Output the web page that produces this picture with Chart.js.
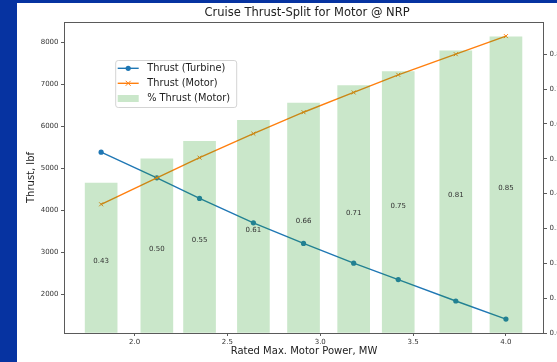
<!DOCTYPE html>
<html>
<head>
<meta charset="utf-8">
<script src="https://cdn.jsdelivr.net/npm/chart.js@4.4.1/dist/chart.umd.min.js"></script>
<style>
  html, body { margin: 0; padding: 0; width: 557px; height: 362px; overflow: hidden; background: #0633a1; }
  #wrap { position: absolute; left: 17px; top: 3px; width: 580px; height: 359px; background: #fff; }
  canvas { display: block; }
</style>
</head>
<body>
<div id="wrap"><canvas id="c" width="580" height="359"></canvas></div>
<script>
// Rated max. motor power (MW) for each design point
const motorPower = [1.82, 2.12, 2.35, 2.64, 2.91, 3.18, 3.42, 3.73, 4.00];
// Cruise thrust carried by the turbine and by the motor (lbf)
const thrustTurbine = [5380, 4770, 4280, 3700, 3210, 2740, 2350, 1840, 1410];
const thrustMotor = [4140, 4770, 5250, 5820, 6330, 6800, 7220, 7710, 8140];
// Share of thrust from the motor
const motorShare = [0.43, 0.50, 0.55, 0.61, 0.66, 0.71, 0.75, 0.81, 0.85];

// Axis ticks
const powerTicks = [2.0, 2.5, 3.0, 3.5, 4.0];
const thrustTicks = [2000, 3000, 4000, 5000, 6000, 7000, 8000];
const shareTicks = [0.0, 0.1, 0.2, 0.3, 0.4, 0.5, 0.6, 0.7, 0.8];

const FONT = "'DejaVu Sans', sans-serif";
const TXT = '#333';
const SPINE = '#5a5a5a';

const pts = (ys) => motorPower.map((x, i) => ({ x: x, y: ys[i] }));

// Frame around the plot area (all four spines)
const frame = {
  id: 'frame',
  afterDatasetsDraw(chart) {
    const { ctx, chartArea: a } = chart;
    ctx.save();
    ctx.strokeStyle = SPINE;
    ctx.lineWidth = 1;
    ctx.strokeRect(a.left + 0.5, a.top + 0.5, a.right - a.left - 1, a.bottom - a.top);
    ctx.restore();
  }
};

// Share values written at mid-height of each bar
const barLabels = {
  id: 'barLabels',
  afterDatasetsDraw(chart) {
    const { ctx, scales } = chart;
    ctx.save();
    ctx.font = '7px ' + FONT;
    ctx.fillStyle = '#333';
    ctx.textAlign = 'center';
    ctx.textBaseline = 'middle';
    motorShare.forEach((v, i) => {
      const x = scales.x.getPixelForValue(motorPower[i]);
      const y = scales.y1.getPixelForValue(v / 2) + 3.4;
      ctx.fillText(v.toFixed(2), x, y);
    });
    ctx.restore();
  }
};

// Boxed legend inside the plot area
const legendBox = {
  id: 'legendBox',
  afterDraw(chart, args, o) {
    const { ctx, chartArea: a } = chart;
    const x = a.left + o.dx, y = a.top + o.dy;
    ctx.save();
    ctx.beginPath();
    ctx.roundRect(x + 0.5, y + 0.5, o.w, o.h, 2.5);
    ctx.fillStyle = 'rgba(255,255,255,0.8)';
    ctx.fill();
    ctx.strokeStyle = '#d4d4d4';
    ctx.lineWidth = 1;
    ctx.stroke();
    ctx.font = '9.8px ' + FONT;
    ctx.textBaseline = 'middle';
    chart.data.datasets.forEach((ds, i) => {
      const ry = y + 8.3 + i * 15;
      const hx = x + 2.5;
      if (ds.type === 'line') {
        ctx.strokeStyle = ds.borderColor;
        ctx.lineWidth = 1.4;
        ctx.beginPath();
        ctx.moveTo(hx, ry); ctx.lineTo(hx + 21, ry);
        ctx.stroke();
        const mx = hx + 10.5;
        if (ds.pointStyle === 'circle') {
          ctx.fillStyle = ds.borderColor;
          ctx.beginPath(); ctx.arc(mx, ry, 2.6, 0, Math.PI * 2); ctx.fill();
        } else {
          ctx.lineWidth = 1;
          ctx.beginPath();
          ctx.moveTo(mx - 2.5, ry - 2.5); ctx.lineTo(mx + 2.5, ry + 2.5);
          ctx.moveTo(mx - 2.5, ry + 2.5); ctx.lineTo(mx + 2.5, ry - 2.5);
          ctx.stroke();
        }
      } else {
        ctx.fillStyle = ds.backgroundColor;
        ctx.fillRect(hx, ry - 3.3, 21, 7);
      }
      ctx.fillStyle = '#222';
      ctx.fillText(ds.label, x + 32, ry);
    });
    ctx.restore();
  }
};

new Chart(document.getElementById('c'), {
  type: 'bar',
  data: {
    datasets: [
      {
        type: 'line', label: 'Thrust (Turbine)', data: pts(thrustTurbine),
        borderColor: '#1f77b4', backgroundColor: '#1f77b4', borderWidth: 1.4,
        pointStyle: 'circle', pointRadius: 2.6, pointBorderWidth: 0,
        yAxisID: 'y', order: 2
      },
      {
        type: 'line', label: 'Thrust (Motor)', data: pts(thrustMotor),
        borderColor: '#ff7f0e', backgroundColor: '#ff7f0e', borderWidth: 1.4,
        pointStyle: 'crossRot', pointRadius: 2.8, pointBorderWidth: 1,
        yAxisID: 'y', order: 1
      },
      {
        type: 'bar', label: '% Thrust (Motor)', data: pts(motorShare),
        backgroundColor: 'rgba(44,160,44,0.25)', borderWidth: 0,
        barThickness: 32, yAxisID: 'y1', order: 0
      }
    ]
  },
  options: {
    responsive: false,
    animation: false,
    devicePixelRatio: 1,
    layout: { padding: 0 },
    plugins: {
      legend: { display: false },
      tooltip: { enabled: false },
      title: {
        display: true,
        text: 'Cruise Thrust-Split for Motor @ NRP',
        color: '#222',
        font: { family: FONT, size: 11.5, weight: 'normal' },
        padding: { top: 3.6, bottom: 1.6 }
      },
      legendBox: { dx: 51.2, dy: 38, w: 121, h: 47 }
    },
    scales: {
      x: {
        type: 'linear', min: 1.62, max: 4.205, offset: false,
        afterBuildTicks: s => { s.ticks = powerTicks.map(v => ({ value: v })); },
        afterFit: s => { s.height = 29; },
        ticks: { color: TXT, font: { family: FONT, size: 7 }, padding: 2, callback: v => v.toFixed(1) },
        grid: { drawOnChartArea: false, drawTicks: true, tickLength: 3, tickColor: SPINE, offset: false },
        border: { display: false },
        title: { display: true, text: 'Rated Max. Motor Power, MW', color: '#222',
                 font: { family: FONT, size: 10 }, padding: { top: 0, bottom: 4.5 } }
      },
      y: {
        type: 'linear', position: 'left', min: 1079, max: 8476,
        afterBuildTicks: s => { s.ticks = thrustTicks.map(v => ({ value: v })); },
        afterFit: s => { s.width = 47; },
        ticks: { color: TXT, font: { family: FONT, size: 7 }, padding: 2.5, callback: v => String(v) },
        grid: { drawOnChartArea: false, drawTicks: true, tickLength: 3, tickColor: SPINE },
        border: { display: false },
        title: { display: true, text: 'Thrust, lbf', color: '#222',
                 font: { family: FONT, size: 10 }, padding: { top: 8, bottom: 0 } }
      },
      y1: {
        type: 'linear', position: 'right', min: 0, max: 0.8925,
        afterBuildTicks: s => { s.ticks = shareTicks.map(v => ({ value: v })); },
        afterFit: s => { s.width = 53; },
        ticks: { color: TXT, font: { family: FONT, size: 7 }, padding: 2.5, callback: v => v.toFixed(1) },
        grid: { drawOnChartArea: false, drawTicks: true, tickLength: 3, tickColor: SPINE },
        border: { display: false }
      }
    }
  },
  plugins: [frame, barLabels, legendBox]
});
</script>
</body>
</html>
